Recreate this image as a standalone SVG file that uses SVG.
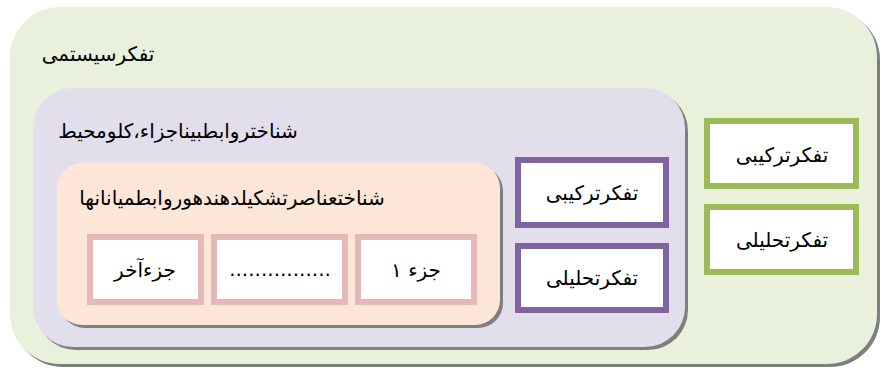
<svg xmlns="http://www.w3.org/2000/svg" width="882" height="370" viewBox="0 0 882 370">
<style>
text{font-family:"DejaVu Sans",sans-serif;font-size:20px;fill:#000;text-anchor:middle;}
.sh{fill:#7f7f7f;}
.pink{fill:#fff;stroke:#E6B8B7;stroke-width:6;}
.purp{fill:#fff;stroke:#8064A2;stroke-width:6;}
.grn{fill:#fff;stroke:#9BBB59;stroke-width:6;}
</style>
<rect width="882" height="370" fill="#fff"/>
<g id="system">
<rect class="sh" x="13" y="10" width="867" height="357" rx="50"/>
<rect x="10" y="7" width="867" height="357" rx="50" fill="#E9F0DC"/>
<text x="98" y="61" font-size="21">تفکرسیستمی</text>
</g>
<g id="relations">
<rect class="sh" x="36" y="91" width="652" height="259" rx="40"/>
<rect x="33" y="88" width="652" height="259" rx="40" fill="#E3DEEB"/>
<text x="178" y="138">شناختروابطبیناجزاء،کلومحیط</text>
</g>
<g id="elements">
<rect class="sh" x="60" y="166" width="443" height="162" rx="25"/>
<rect x="57" y="163" width="443" height="162" rx="25" fill="#FBE6D8"/>
<text x="232" y="205">شناختعناصرتشکیلدهندهوروابطمیانانها</text>
</g>
<g id="part-last">
<rect class="pink" x="90" y="237" width="111" height="65"/>
<text x="145" y="277">جزءآخر</text>
</g>
<g id="part-dots">
<rect class="pink" x="214" y="237" width="131" height="65"/>
<text x="280" y="276" font-size="17">................</text>
</g>
<g id="part-1">
<rect class="pink" x="358" y="237" width="116" height="65"/>
<text x="416" y="277">جزء ۱</text>
</g>
<g id="inner-synth">
<rect class="purp" x="518" y="160" width="148" height="65"/>
<text x="592" y="200">تفکرترکیبی</text>
</g>
<g id="inner-analyt">
<rect class="purp" x="518" y="246" width="148" height="64"/>
<text x="592" y="285">تفکرتحلیلی</text>
</g>
<g id="outer-synth">
<rect class="grn" x="707" y="121" width="149" height="65"/>
<text x="782" y="162">تفکرترکیبی</text>
</g>
<g id="outer-analyt">
<rect class="grn" x="707" y="207" width="149" height="65"/>
<text x="782" y="247">تفکرتحلیلی</text>
</g>
<g id="connectors"></g>
</svg>
